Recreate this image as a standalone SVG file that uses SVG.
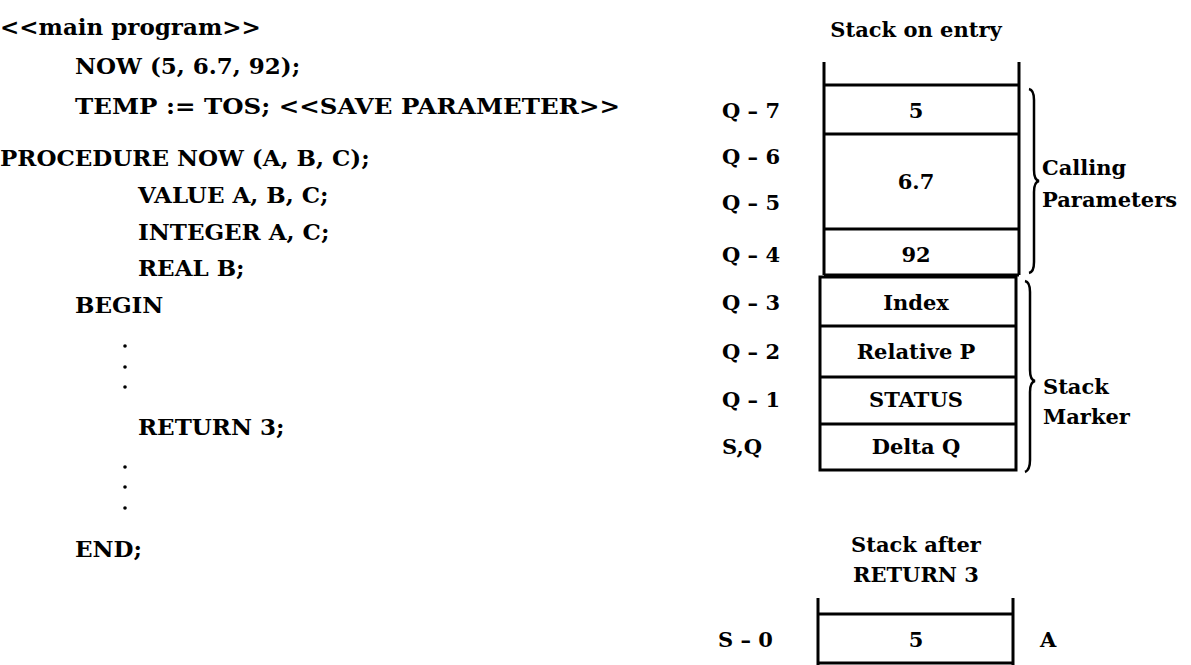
<svg xmlns="http://www.w3.org/2000/svg" width="1191" height="665" viewBox="0 0 1191 665">
<style>
text{font-family:"DejaVu Serif","Liberation Serif",serif;font-weight:bold;fill:#000}
.code{font-size:23px}
.lab{font-size:21px}
.c{text-anchor:middle}
.ln{stroke:#000;stroke-width:3;fill:none}
.br{stroke:#000;stroke-width:2.5;fill:none}
</style>
<rect width="1191" height="665" fill="#fff"/>
<g id="code">
<text class="code" x="0" y="35">&lt;&lt;main program&gt;&gt;</text>
<text class="code" x="75" y="74">NOW (5, 6.7, 92);</text>
<text class="code" x="75" y="114" textLength="545" lengthAdjust="spacingAndGlyphs">TEMP := TOS; &lt;&lt;SAVE PARAMETER&gt;&gt;</text>
<text class="code" x="0" y="166">PROCEDURE NOW (A, B, C);</text>
<text class="code" x="138" y="203">VALUE A, B, C;</text>
<text class="code" x="138" y="240">INTEGER A, C;</text>
<text class="code" x="138" y="276">REAL B;</text>
<text class="code" x="75" y="313">BEGIN</text>
<circle cx="125" cy="346" r="1.8"/>
<circle cx="125" cy="367" r="1.8"/>
<circle cx="125" cy="387" r="1.8"/>
<text class="code" x="138" y="435">RETURN 3;</text>
<circle cx="125" cy="467" r="1.8"/>
<circle cx="125" cy="487" r="1.8"/>
<circle cx="125" cy="508" r="1.8"/>
<text class="code" x="75" y="557">END;</text>
</g>
<g id="stack-entry">
<text class="lab c" x="916" y="37">Stack on entry</text>
<path class="ln" d="M824 62V275M1019 62V275"/>
<path class="ln" d="M824 85H1019M824 134H1019M824 229H1019M824 275H1019"/>
<path class="ln" d="M820 277H1016V470H820Z M820 326H1016M820 377H1016M820 424H1016"/>
<text class="lab c" x="916" y="118">5</text>
<text class="lab c" x="916" y="189">6.7</text>
<text class="lab c" x="916" y="262">92</text>
<text class="lab c" x="916" y="310">Index</text>
<text class="lab c" x="916" y="359">Relative P</text>
<text class="lab c" x="916" y="407">STATUS</text>
<text class="lab c" x="916" y="454">Delta Q</text>
<text class="lab" x="722" y="118">Q – 7</text>
<text class="lab" x="722" y="164">Q – 6</text>
<text class="lab" x="722" y="210">Q – 5</text>
<text class="lab" x="722" y="262">Q – 4</text>
<text class="lab" x="722" y="310">Q – 3</text>
<text class="lab" x="722" y="359">Q – 2</text>
<text class="lab" x="722" y="407">Q – 1</text>
<text class="lab" x="722" y="454">S,Q</text>
</g>
<g id="brace-params">
<path class="br" d="M1029 89Q1034 90 1034 100V170Q1034 180 1039 181Q1034 182 1034 192V262Q1034 272 1029 273"/>
<text class="lab" x="1042" y="175">Calling</text>
<text class="lab" x="1042" y="207">Parameters</text>
</g>
<g id="brace-marker">
<path class="br" d="M1025 281Q1030 282 1030 292V370Q1030 380 1035 381Q1030 382 1030 392V460Q1030 470 1025 472"/>
<text class="lab" x="1043" y="394">Stack</text>
<text class="lab" x="1043" y="424">Marker</text>
</g>
<g id="stack-after">
<text class="lab c" x="916" y="552">Stack after</text>
<text class="lab c" x="916" y="582">RETURN 3</text>
<path class="ln" d="M818 598V665M1013 598V665M818 614H1013M818 663H1013"/>
<text class="lab c" x="916" y="647">5</text>
<text class="lab" x="718" y="647">S – 0</text>
<text class="lab" x="1040" y="647">A</text>
</g>
</svg>
